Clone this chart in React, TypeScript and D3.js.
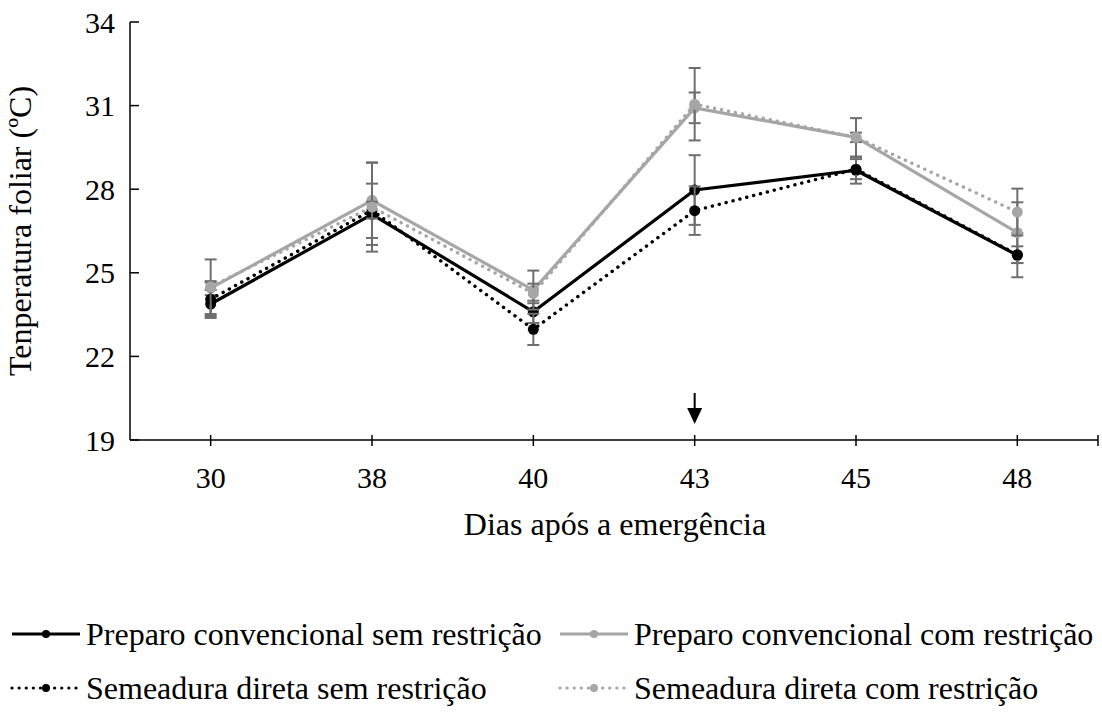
import React from "react";
import * as d3 from "d3";

const days = ["30", "38", "40", "43", "45", "48"];
const yTicks = [19, 22, 25, 28, 31, 34];

const pcSem = [23.88, 27.1, 23.6, 27.97, 28.68, 25.63];
const pcSemErr = [0.5, 1.1, 0.4, 1.25, 0.48, 0.79];
const pcCom = [24.45, 27.6, 24.38, 30.92, 29.86, 26.44];
const pcComErr = [0.25, 1.35, 0.7, 0.55, 0.17, 1.09];
const sdSem = [24.05, 27.25, 22.97, 27.23, 28.72, 25.65];
const sdSemErr = [0.6, 0.3, 0.56, 0.87, 0.36, 0.3];
const sdCom = [24.5, 27.36, 24.26, 31.05, 29.86, 27.18];
const sdComErr = [0.98, 1.6, 0.35, 1.3, 0.69, 0.84];

const seriesNames = [
  "Preparo convencional sem restrição",
  "Preparo convencional com restrição",
  "Semeadura direta sem restrição",
  "Semeadura direta com restrição",
];

const BLACK = "#000000";
const GRAY = "#a6a6a6";
const ERR = "#6e6e6e";
const FONT = "Liberation Serif, Times New Roman, DejaVu Serif, serif";

const series = [
  { name: seriesNames[0], values: pcSem, err: pcSemErr, color: BLACK, dotted: false },
  { name: seriesNames[1], values: pcCom, err: pcComErr, color: GRAY, dotted: false },
  { name: seriesNames[2], values: sdSem, err: sdSemErr, color: BLACK, dotted: true },
  { name: seriesNames[3], values: sdCom, err: sdComErr, color: GRAY, dotted: true },
];

const W = 1102;
const H = 716;
const left = 130;
const right = 1098;
const top = 22;
const bottom = 440;

const txt = { fontFamily: FONT } as React.CSSProperties;

export default function App() {
  const x = d3.scaleBand<string>().domain(days).range([left, right]).paddingInner(0).paddingOuter(0);
  const cx = (d: string) => (x(d) as number) + x.bandwidth() / 2;
  const y = d3.scaleLinear().domain([19, 34]).range([bottom, top]);
  const line = d3
    .line<number>()
    .x((_, i) => cx(days[i]))
    .y((v) => y(v));

  const dotDash = "0.1 7";

  const legendItems = [
    { s: series[0], lx: 12, ly: 634 },
    { s: series[1], lx: 560, ly: 634 },
    { s: series[2], lx: 12, ly: 688 },
    { s: series[3], lx: 560, ly: 688 },
  ];

  const arrowX = cx("43");

  return (
    <svg
      width={W}
      height={H}
      style={{ position: "absolute", left: 0, top: 0, background: "#fff", fontFamily: FONT }}
    >
      <rect x={0} y={0} width={W} height={H} fill="#fff" />
      {/* axes */}
      <line x1={left} x2={left} y1={top} y2={bottom} stroke="#000" strokeWidth={1.5} />
      {yTicks.map((t) => (
        <g key={t}>
          <line x1={left} x2={left + 9} y1={y(t)} y2={y(t)} stroke="#000" strokeWidth={1.5} />
          <text x={115} y={y(t)} dy="0.35em" textAnchor="end" fontSize={30} style={txt}>
            {t}
          </text>
        </g>
      ))}
      <line x1={left} x2={right} y1={bottom} y2={bottom} stroke="#000" strokeWidth={1.5} />
      {days.map((d) => (
        <g key={d}>
          <line x1={cx(d)} x2={cx(d)} y1={bottom - 5} y2={bottom + 6} stroke="#000" strokeWidth={1.5} />
          <text x={cx(d)} y={488} textAnchor="middle" fontSize={30} style={txt}>
            {d}
          </text>
        </g>
      ))}
      <line x1={right} x2={right} y1={bottom - 5} y2={bottom + 6} stroke="#000" strokeWidth={1.5} />

      <text x={615} y={535} textAnchor="middle" fontSize={32} style={txt}>
        Dias após a emergência
      </text>
      <text
        transform={`translate(31, ${(top + bottom) / 2}) rotate(-90)`}
        textAnchor="middle"
        fontSize={32}
        style={txt}
      >
        Tenperatura foliar (ºC)
      </text>

      {/* series */}
      {series.map((s, si) => (
        <g key={si}>
          <path
            d={line(s.values) as string}
            fill="none"
            stroke={s.color}
            strokeWidth={s.dotted ? 3.4 : 3.2}
            strokeDasharray={s.dotted ? dotDash : undefined}
            strokeLinecap={s.dotted ? "round" : "butt"}
            strokeLinejoin="round"
          />
          {s.values.map((v, i) => {
            const xx = cx(days[i]);
            const y1 = y(v + s.err[i]);
            const y2 = y(v - s.err[i]);
            return (
              <g key={i} stroke={ERR} strokeWidth={2}>
                <line x1={xx} x2={xx} y1={y1} y2={y2} />
                <line x1={xx - 6} x2={xx + 6} y1={y1} y2={y1} />
                <line x1={xx - 6} x2={xx + 6} y1={y2} y2={y2} />
              </g>
            );
          })}
          {s.values.map((v, i) => (
            <circle key={i} cx={cx(days[i])} cy={y(v)} r={5.5} fill={s.color} />
          ))}
        </g>
      ))}

      {/* arrow */}
      <line x1={arrowX} x2={arrowX} y1={393} y2={410} stroke="#000" strokeWidth={2} />
      <path d={`M${arrowX - 7.5},408 L${arrowX + 7.5},408 L${arrowX},424 Z`} fill="#000" />

      {/* legend */}
      {legendItems.map(({ s, lx, ly }, i) => (
        <g key={i}>
          <line
            x1={lx}
            x2={lx + 68}
            y1={ly}
            y2={ly}
            stroke={s.color}
            strokeWidth={3.2}
            strokeDasharray={s.dotted ? dotDash : undefined}
            strokeLinecap={s.dotted ? "round" : "butt"}
          />
          <circle cx={lx + 34} cy={ly} r={4} fill={s.color} />
          <text x={lx + 74} y={ly} dy="0.33em" fontSize={32} style={txt}>
            {s.name}
          </text>
        </g>
      ))}
    </svg>
  );
}
